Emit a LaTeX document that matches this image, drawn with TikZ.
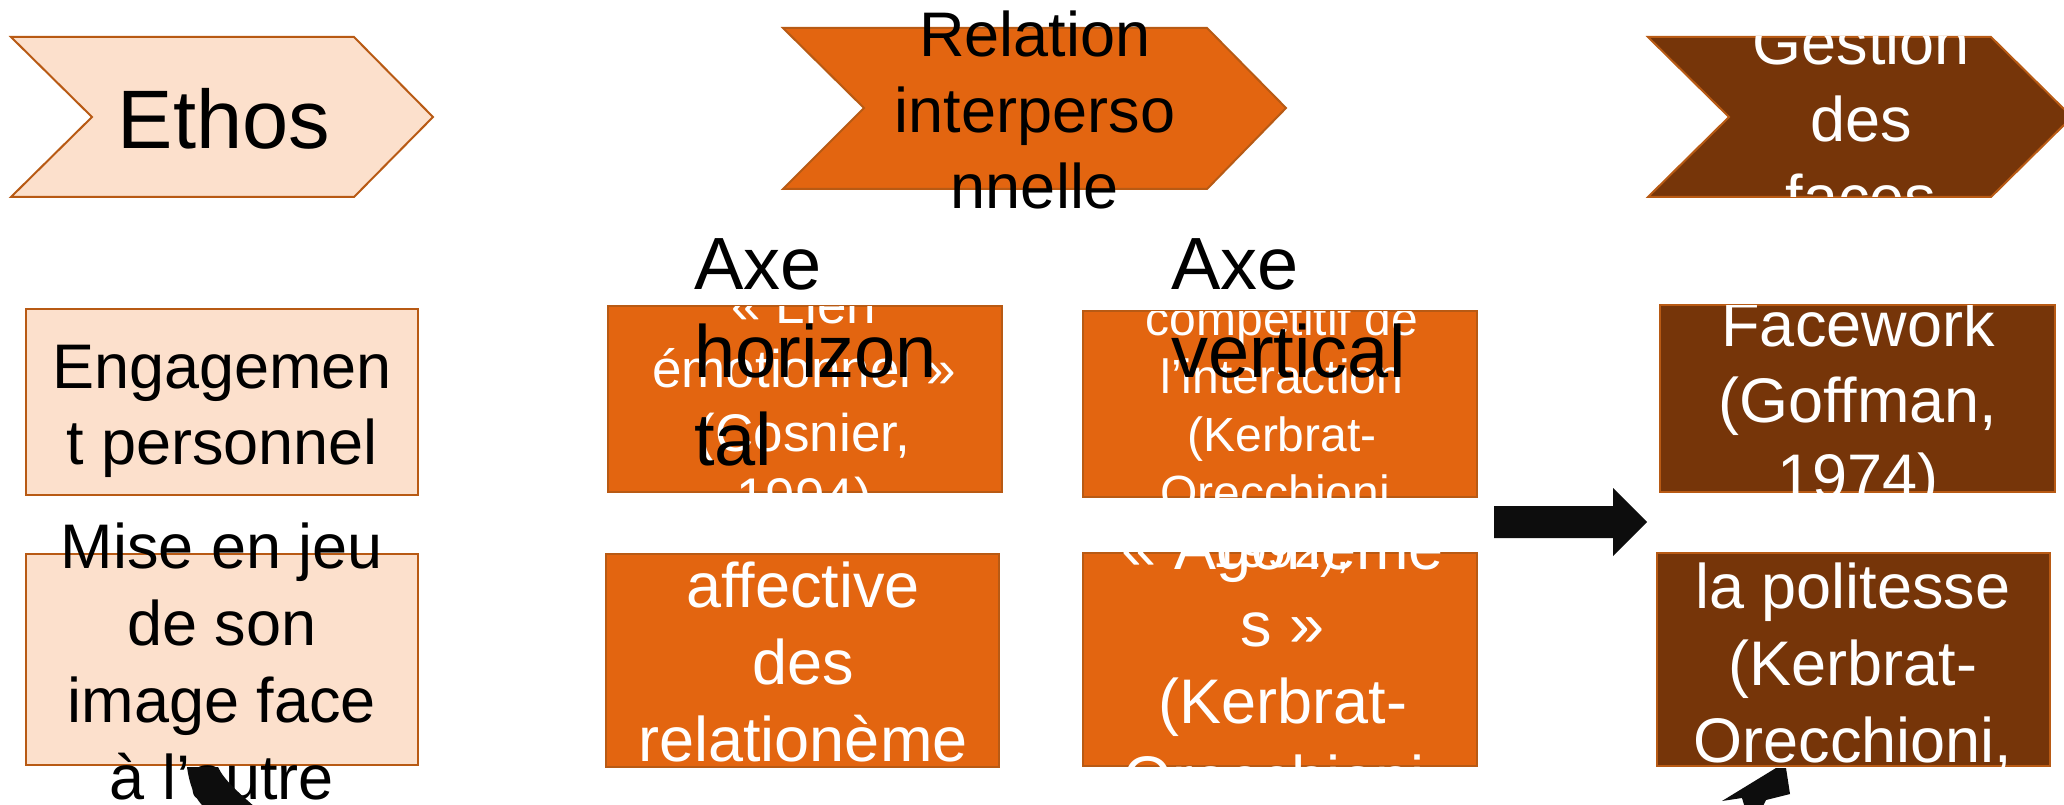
\documentclass[tikz,border=0pt]{standalone}
\usepackage{fontspec}
\setmainfont{Liberation Sans}

\begin{document}
\begin{tikzpicture}[x=1pt,y=-1pt,
    peachbox/.style={draw=edge,fill=peach,line width=2pt,inner sep=0pt,outer sep=0pt,anchor=north west},
    orangebox/.style={peachbox,fill=orangea},
    brownbox/.style={peachbox,fill=browna},
    chev/.style={draw=edge,line width=2pt,line join=miter},
    txt/.style={align=center,inner sep=0pt,anchor=base,font=\fontsize{63}{77}\selectfont},
    smalltxt/.style={txt,font=\fontsize{53}{64}\selectfont},
    tinytxt/.style={txt,font=\fontsize{48}{58}\selectfont},
    axetxt/.style={align=left,inner sep=0pt,anchor=base west,font=\fontsize{74}{88}\selectfont}]
    \definecolor{peach}{HTML}{FCE0CC}
    \definecolor{orangea}{HTML}{E36510}
    \definecolor{browna}{HTML}{763509}
    \definecolor{edge}{HTML}{B85A14}
    \definecolor{arrowblack}{HTML}{0D0D0D}

    \useasboundingbox (0,0) rectangle (2064,805);
    \clip (0,0) rectangle (2064,805);
    \fill[white] (0,0) rectangle (2064,805);

% top chevrons (text placed at the baseline of its last line)
    \draw[chev,fill=peach] (11,37) -- (354,37) -- (433,117) -- (354,197)
        -- (11,197) -- (92,117) -- cycle;
    \node[txt,font=\fontsize{83}{100}\selectfont] (ethos) at (224,149) {Ethos};
    \draw[chev,fill=orangea] (783,28) -- (1207,28) -- (1286,108) -- (1207,189)
        -- (783,189) -- (864,108) -- cycle;
    \node[txt,font=\fontsize{63}{76.5}\selectfont] (relation) at (1035,209) {Relation\\interperso\\nnelle};
    \draw[chev,fill=browna] (1648,37) -- (1991,37) -- (2072,117) -- (1991,197)
        -- (1648,197) -- (1729,117) -- cycle;
    \scope
    \clip (1648,37) rectangle (2064,197);
    \node[txt,text=white,font=\fontsize{63}{78}\selectfont] (gestion) at (1861,220) {Gestion\\des\\faces};
    \endscope

% boxes
    \node[peachbox,minimum width=392pt,minimum height=186pt] (engag) at (26,309) {};
    \node[peachbox,minimum width=392pt,minimum height=211pt] (mise) at (26,554) {};
    \node[orangebox,minimum width=394pt,minimum height=186pt] (lien) at (608,306) {};
    \node[orangebox,minimum width=393pt,minimum height=213pt] (affect) at (606,554) {};
    \node[orangebox,minimum width=394pt,minimum height=186pt] (compet) at (1083,311) {};
    \node[orangebox,minimum width=394pt,minimum height=213pt] (agon) at (1083,553) {};
    \node[brownbox,minimum width=395pt,minimum height=187pt] (facew) at (1660,305) {};
    \node[brownbox,minimum width=393pt,minimum height=213pt] (polit) at (1657,553) {};

% left column
    \node[txt,font=\fontsize{63}{76}\selectfont] (engagtxt) at (222,464) {Engagemen\\t personnel};
    \node[txt] (misetxt) at (222,799) {Mise en jeu\\de son\\image face\\à l’autre};

% middle columns, text cut by the boxes
    \scope
    \clip (lien.north west) rectangle (lien.south east);
    \node[smalltxt,text=white] (lientxt) at (804,515) {« Lien\\émotionnel »\\(Cosnier,\\1994)};
    \endscope
    \scope
    \clip (affect.north west) rectangle (affect.south east);
    \node[txt,text=white] (affecttxt) at (803,761) {affective\\des\\relationème};
    \endscope
    \scope
    \clip (compet.north west) rectangle (compet.south east);
    \node[tinytxt,text=white] (competxt) at (1282,567) {compétitif de\\l’interaction\\(Kerbrat-\\Orecchioni,\\1992),};
    \endscope
    \scope
    \clip (1083,543) rectangle (agon.south east);
    \node[tinytxt,text=white] at (1282,567) {compétitif de\\l’interaction\\(Kerbrat-\\Orecchioni,\\1992),};
    \node[txt,text=white] (agontxt) at (1283,800) {« Agonème\\s »\\(Kerbrat-\\Orecchioni,};
    \endscope

% right column
    \scope
    \clip (facew.north west) rectangle (facew.south east);
    \node[txt,text=white,font=\fontsize{63}{76}\selectfont] (facetxt) at (1858,498) {Facework\\(Goffman,\\1974)};
    \endscope
    \scope
    \clip (polit.north west) rectangle (polit.south east);
    \node[txt,text=white] (polittxt) at (1853,762) {la politesse\\(Kerbrat-\\Orecchioni,};
    \endscope

% axes
    \node[axetxt] (axeh) at (694,465) {Axe\\horizon\\tal};
    \node[axetxt] (axev) at (1171,377) {Axe\\vertical};

% arrows
    \fill[arrowblack] (1494,506) -- (1613,506) -- (1613,488) -- (1647,522)
        -- (1613,556) -- (1613,538) -- (1494,538) -- cycle;
    \fill[arrowblack] (187,767) .. controls (190,788) and (196,800) .. (205,808)
        -- (256,808) .. controls (238,792) and (224,780) .. (218,767) -- cycle;
    \fill[arrowblack] (1722,801) -- (1776,768) -- (1786,768) -- (1790,794)
        -- (1766,800) -- (1762,808) -- (1745,808) -- (1742,798) -- cycle;
\end{tikzpicture}
\end{document}
